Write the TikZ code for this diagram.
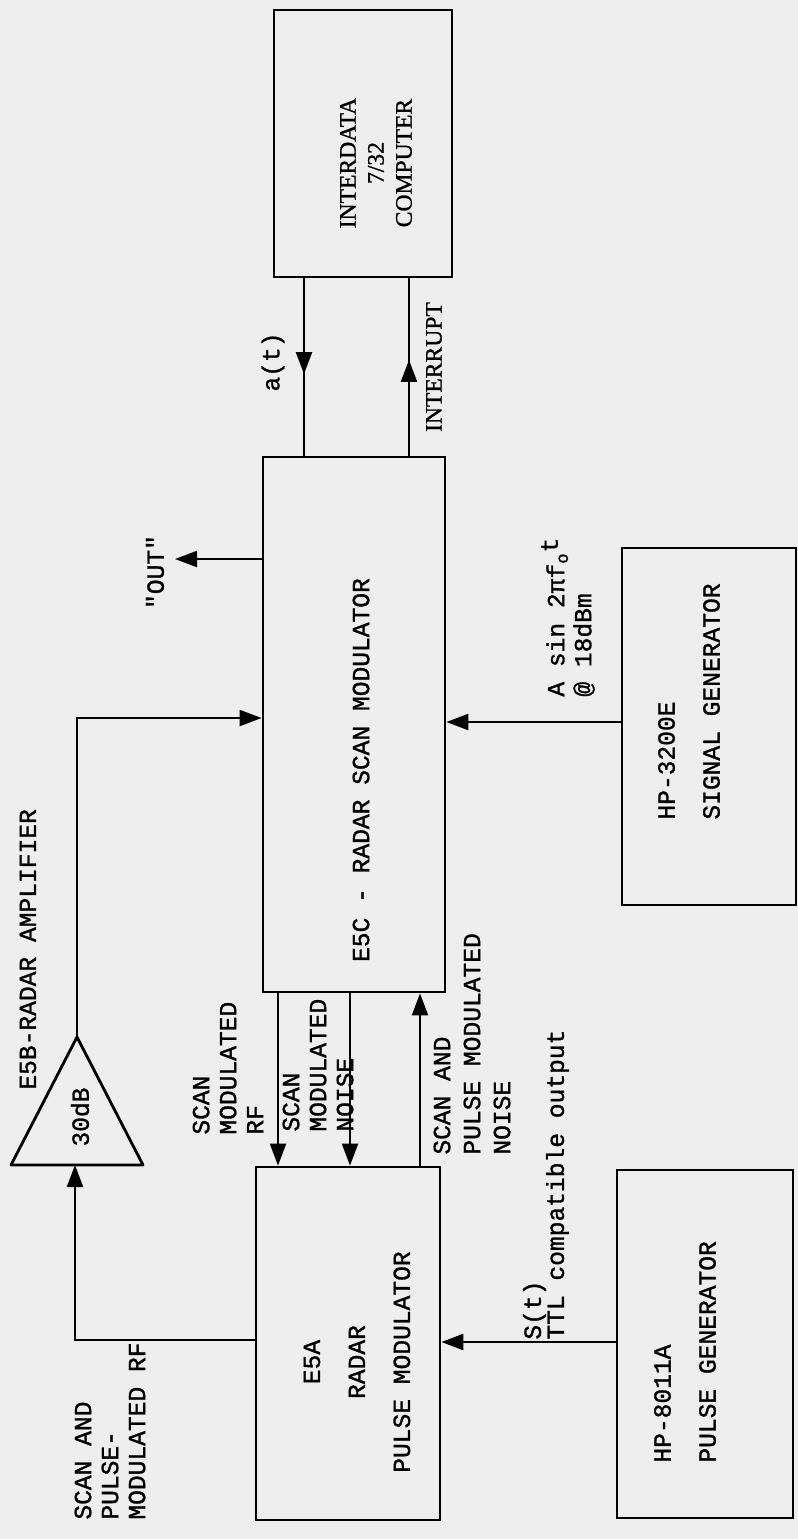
\documentclass[tikz,border=0pt]{standalone}
\usepackage{fontspec}
\setmainfont{Liberation Mono}[Ligatures=TeXOff,FakeBold=1.2]
\newfontfamily\printface{Liberation Serif}[FakeBold=1]
\usetikzlibrary{arrows.meta,decorations.markings}
\definecolor{paper}{RGB}{238,238,238}
\newcommand{\PrintFont}{\printface\fontsize{11.8}{14}\selectfont}

\begin{document}
\begin{tikzpicture}[x=0.5pt,y=-0.5pt,
  font=\fontsize{12.3}{13.5}\selectfont,
  >={Triangle[length=11pt,width=8pt]},
  unit/.style={draw,line width=1.4pt,inner sep=0pt},
  wire/.style={line width=1.1pt,->},
  midwire/.style={line width=1.1pt,postaction={decorate},
    decoration={markings,mark=at position .54 with {\arrow{>}}}},
  boxtext/.style={rotate=90,inner sep=0pt,align=center},
  tag/.style={rotate=90,inner sep=0pt,align=left,anchor=west}]
\useasboundingbox (0,0) rectangle (798,1539);
\fill[paper] (0,0) rectangle (798,1539);

\node[unit,minimum width=89pt,minimum height=133.5pt] (comp) at (363,143.5) {};
\node[unit,minimum width=91pt,minimum height=267.5pt] (e5c) at (354,724.5) {};
\node[unit,minimum width=92pt,minimum height=176.5pt] (e5a) at (348,1343.5) {};
\node[unit,minimum width=87pt,minimum height=178.5pt] (sgen) at (709,726.5) {};
\node[unit,minimum width=88pt,minimum height=174pt] (pgen) at (705,1344) {};

\coordinate (ampL) at (11,1165);
\coordinate (ampR) at (143,1165);
\coordinate (ampout) at (77,1037);
\coordinate (ampin) at (75,1165);
\coordinate (outend) at (175,559);
\draw[line width=1.4pt,line join=round] (ampL) -- (ampout) -- (ampR) -- cycle;

\node[boxtext,font=\PrintFont] (compname) at (376,163) {INTERDATA\\7/32\\COMPUTER};
\node[boxtext] (e5cname) at (361,770) {E5C - RADAR SCAN MODULATOR};
\node[boxtext] (e5aname) at (357,1362) {E5A\\[9pt]RADAR\\[9pt]PULSE MODULATOR};
\node[tag] (sgenname) at (689,820) {HP-3200E\\[9pt]SIGNAL GENERATOR};
\node[tag] (pgenname) at (685,1463) {HP-8011A\\[9pt]PULSE GENERATOR};
\node[tag] (ampname) at (28,1090) {E5B-RADAR AMPLIFIER};
\node[boxtext] (gain) at (80,1117) {30dB};

\draw[midwire] (304,0 |- comp.south) -- (304,0 |- e5c.north);
\draw[midwire] (409,0 |- e5c.north) -- (409,0 |- comp.south);
\draw[wire] (e5c.west |- 0,559) -- (outend);
\draw[wire] (ampout) |- (e5c.west |- 0,718);
\draw[wire] (sgen.west |- 0,722) -- (e5c.east |- 0,722);
\draw[wire] (pgen.west |- 0,1342) -- (e5a.east |- 0,1342);
\draw[wire] (278,0 |- e5c.south) -- (278,0 |- e5a.north);
\draw[wire] (350,0 |- e5c.south) -- (350,0 |- e5a.north);
\draw[wire] (420,0 |- e5a.north) -- (420,0 |- e5c.south);
\draw[wire] (e5a.west |- 0,1340) -| (ampin);

\node[boxtext] (tagat) at (273,362) {a(t)};
\node[boxtext,font=\PrintFont] (tagint) at (434,367) {INTERRUPT};
\node[boxtext] (tagout) at (155,572) {"OUT"};
\node[tag] (tagsin) at (568,697) {A sin 2πf\textsubscript{o}\raisebox{.5ex}{t}\\@ 18dBm};
\node[tag] (tagrf) at (228,1135) {SCAN\\MODULATED\\RF};
\node[tag] (tagnoise) at (318,1132) {SCAN\\MODULATED\\NOISE};
\node[tag] (tagpn) at (472,1155) {SCAN AND\\[1.5pt]PULSE MODULATED\\[1.5pt]NOISE};
\node[tag] (tagst) at (546,1340) {S(t)\\[-2pt]TTL compatible output};
\node[tag] (tagprf) at (110,1520) {SCAN AND\\PULSE-\\MODULATED RF};
\end{tikzpicture}
\end{document}
